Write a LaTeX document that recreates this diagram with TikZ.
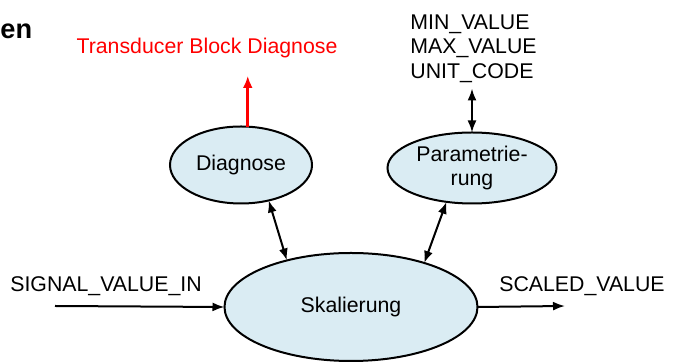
\documentclass[tikz,border=0pt]{standalone}
\usepackage{fontspec}
\setmainfont{Liberation Sans}
\usetikzlibrary{shapes,shapes.geometric,arrows.meta}
\definecolor{bubble}{RGB}{218,236,243}

\begin{document}
\begin{tikzpicture}[x=0.5pt, y=-0.5pt, >={Latex[length=6pt,width=4.5pt]},
  font=\fontsize{10.65}{12.2}\selectfont,
  proc/.style={draw, line width=1pt, fill=bubble, ellipse, inner sep=0pt, outer sep=0pt, align=center},
  flow/.style={line width=1pt}]
  \useasboundingbox (0,0) rectangle (675,362);
  \node[anchor=base west, inner sep=0pt, font=\fontsize{13.6}{15}\selectfont\bfseries] (head) at (0,39) {en};
  % bubbles
  \node[proc, minimum width=71pt, minimum height=38.5pt](diag) at (241,165) {Diagnose};
  \node[proc, minimum width=84.5pt, minimum height=35.5pt](param) at (472,168) {Parametrie-\\rung};
  \node[proc, minimum width=126.5pt, minimum height=54pt](skal) at (351,307) {Skalierung};
  % texts
  \node[red] (tbd) at (207,48) {Transducer Block Diagnose};
  \node[align=left, anchor=north west, inner sep=0pt, font=\fontsize{10.65}{12.25}\selectfont] (limits) at (410,14) {MIN\_VALUE\\MAX\_VALUE\\UNIT\_CODE};
  \node (sigin) at (106,286) {SIGNAL\_VALUE\_IN};
  \node (scaled) at (582,286) {SCALED\_VALUE};
  \coordinate (in) at (55,306);
  \coordinate (out) at (565,306);
  \coordinate (diagout) at (248,76);
  % arrows
  \draw [flow, ->] (in) -- (skal.west);
  \draw [flow, ->] (skal.east) -- (out);
  \draw [flow, <->] (diag.-52) -- (skal.144);
  \draw [flow, <->] (param.233) -- (skal.31);
  \draw [flow, <->] (param.north) -- ++(0,-44);
  \draw [red, line width=1.5pt, ->, >={Latex[length=6pt,width=5pt]}] (diag.80) -- (diag.80 |- diagout);
\end{tikzpicture}
\end{document}
